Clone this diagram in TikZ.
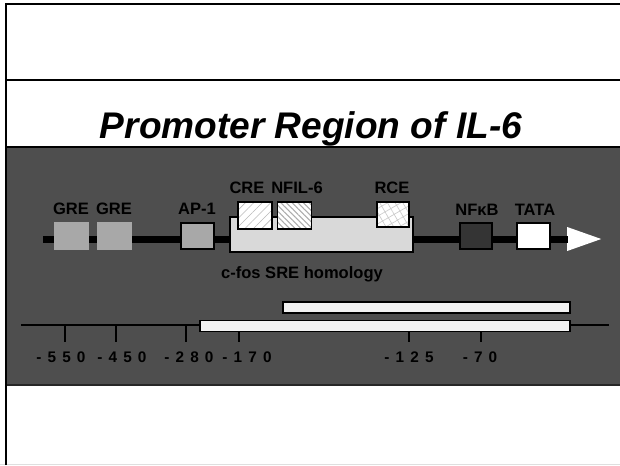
\documentclass[tikz,border=0pt]{standalone}
\usepackage{fontspec}
\setmainfont{Liberation Sans}
\newfontfamily\spacedfont[LetterSpace=40]{Liberation Sans}
\usepackage{tikz}
\usetikzlibrary{positioning,shapes.geometric,patterns.meta}
\definecolor{band}{RGB}{78,78,78}
\definecolor{greG}{RGB}{168,168,168}
\definecolor{sreG}{RGB}{217,217,217}
\definecolor{kbG}{RGB}{52,52,52}
\definecolor{barG}{RGB}{242,242,242}

\begin{document}
\begin{tikzpicture}[x=0.75pt, y=-0.75pt, font=\bfseries\fontsize{12.4}{14}\selectfont,
  site/.style={rectangle, inner sep=0pt, draw=black, line width=1.2pt},
  lbl/.style={inner sep=0pt, text=black},
  num/.style={inner sep=0pt, text=black, font=\bfseries\spacedfont\fontsize{11.5}{13}\selectfont},
  hatched/.style={site, preaction={fill=white}, minimum width=34*0.75pt, minimum height=27*0.75pt},
  frag/.style={rectangle, inner sep=0pt, draw=black, line width=1pt, fill=barG, minimum height=11*0.75pt}]
  \useasboundingbox (0,0) rectangle (620,465);
  % slide frame and grey band
  \fill[white] (0,0) rectangle (620,465);
  \draw[gray!25, line width=1pt] (0,464.5) -- (620,464.5);
  \fill[band] (6,147) rectangle (620,385);
  \draw[black!85, line width=1.5pt] (6,384.5) -- (620,384.5);
  \draw[black, line width=0.8pt] (6,147) -- (620,147);
  \draw[black, line width=0.8pt] (6,80) -- (620,80);
  \draw[black, line width=2pt] (6,465) -- (6,4) -- (620,4);
  \node[lbl, font=\bfseries\itshape\fontsize{27.8}{30}\selectfont] (title) at (311,128.5)
    {Promoter Region of IL-6};

  % DNA strand
  \coordinate (dnastart) at (43,239);
  \node[isosceles triangle, isosceles triangle apex angle=39, isosceles triangle stretches,
        fill=white, inner sep=0pt, minimum height=34*0.75pt, minimum width=24*0.75pt,
        anchor=apex] (tip) at (602,239) {};
  \draw[black, line width=7*0.75pt] (dnastart) -- ([xshift=1pt]tip.west);
  \node[site, draw=none, fill=greG, minimum width=35*0.75pt, minimum height=28*0.75pt] (gre1) at (71.5,236) {};
  \node[site, draw=none, fill=greG, minimum width=35*0.75pt, minimum height=28*0.75pt] (gre2) at (114.5,236) {};
  \node[site, fill=greG, minimum width=33*0.75pt, minimum height=26*0.75pt] (ap1) at (197.5,236) {};
  \node[site, fill=sreG, minimum width=183*0.75pt, minimum height=35*0.75pt] (sre) at (321.5,234.5) {};
  \node[hatched, pattern={Lines[angle=45,distance=4.5pt,line width=0.5pt]}, pattern color=gray!55] (cre) at (255,215.5) {};
  \node[hatched, pattern={Lines[angle=-45,distance=3pt,line width=0.8pt]}, pattern color=gray!65] (nfil) at (294.5,215.5) {};
  \node[hatched, minimum width=32*0.75pt, minimum height=25*0.75pt,
        pattern={Hatch[angle=30,distance=5pt,line width=0.5pt]}, pattern color=gray!40] (rce) at (393,214.5) {};
  \node[site, fill=kbG, minimum width=32*0.75pt, minimum height=26*0.75pt] (nfkb) at (476,236) {};
  \node[site, fill=white, minimum width=33*0.75pt, minimum height=26*0.75pt] (tata) at (533.5,236) {};

  % site names
  \node[lbl] (greA) at (71,209) {GRE};
  \node[lbl] (greB) at (114,209) {GRE};
  \node[lbl] (apone) at (197,209) {AP-1};
  \node[lbl] (crelbl) at (247,188) {CRE};
  \node[lbl] (nfillbl) at (297,188) {NFIL-6};
  \node[lbl] (rcelbl) at (392,188) {RCE};
  \node[lbl] (nfkblbl) at (477,210) {NFκB};
  \node[lbl] (tatalbl) at (535,210) {TATA};
  \node[lbl] (srelbl) at (302,274) {c-fos SRE homology};

  % position scale and deletion fragments
  \draw[black, line width=0.9pt] (21,325) -- (609,325);
  \foreach \x in {65,116,186,239,409,481}
    \draw[black, line width=0.9pt] (\x,325) -- (\x,342);
  \node[frag, minimum width=287*0.75pt] (fragS) at (426.5,307.5) {};
  \node[frag, minimum width=370*0.75pt] (fragL) at (385,326) {};
  \node[num] (p550) at (61,357.5) {-550};
  \node[num] (p450) at (122,357.5) {-450};
  \node[num] (p280) at (189,357.5) {-280};
  \node[num] (p170) at (247,357.5) {-170};
  \node[num] (p125) at (409,357.5) {-125};
  \node[num] (p70) at (480,357.5) {-70};
\end{tikzpicture}
\end{document}
